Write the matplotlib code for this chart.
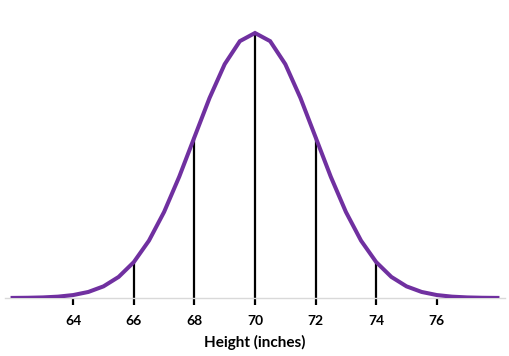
import matplotlib
matplotlib.use("Agg")
import matplotlib.pyplot as plt

# curve points (height in inches, relative frequency)
heights = [62.0, 62.5, 63.0, 63.5, 64.0, 64.5, 65.0, 65.5, 66.0, 66.5, 67.0,
           67.5, 68.0, 68.5, 69.0, 69.5, 70.0, 70.5, 71.0, 71.5, 72.0, 72.5,
           73.0, 73.5, 74.0, 74.5, 75.0, 75.5, 76.0, 76.5, 77.0, 77.5, 78.0]
freq = [0.00007, 0.00018, 0.00044, 0.00102, 0.00222, 0.00455, 0.00876,
        0.01587, 0.02700, 0.04315, 0.06476, 0.09132, 0.12099, 0.15057,
        0.17603, 0.19333, 0.19947, 0.19333, 0.17603, 0.15057, 0.12099,
        0.09132, 0.06476, 0.04315, 0.02700, 0.01587, 0.00876, 0.00455,
        0.00222, 0.00102, 0.00044, 0.00018, 0.00007]

# standard deviation markers
marker_x = [66, 68, 70, 72, 74]
tick_x = [64, 66, 68, 70, 72, 74, 76]

fig = plt.figure(figsize=(5.10, 3.56), dpi=100)
ax = fig.add_axes([5 / 510, 58 / 356, 500 / 510, 278 / 356])

marker_y = [freq[heights.index(x)] for x in marker_x]
ax.vlines(marker_x, 0, marker_y, color="black", lw=1.6, zorder=2)
ax.plot(heights, freq, color="#7030A0", lw=2.9, solid_joinstyle="miter", zorder=3)

ax.set_xlim(61.75, 78.25)
ax.set_ylim(0, 0.19947 * 278 / 265)

for side in ["left", "right", "top"]:
    ax.spines[side].set_visible(False)
ax.spines["bottom"].set_color("#d9d9d9")
ax.spines["bottom"].set_linewidth(1.0)
ax.set_yticks([])
ax.set_xticks(tick_x)
ax.set_xticklabels([str(t) for t in tick_x], fontsize=10, fontweight="bold",
                   family="Lato")
ax.tick_params(axis="x", direction="out", length=5, width=1.6, color="black", pad=7)
ax.set_xlabel("Height (inches)", fontsize=11, fontweight="bold", family="Lato",
              labelpad=6)

fig.savefig("out.png", dpi=100)
